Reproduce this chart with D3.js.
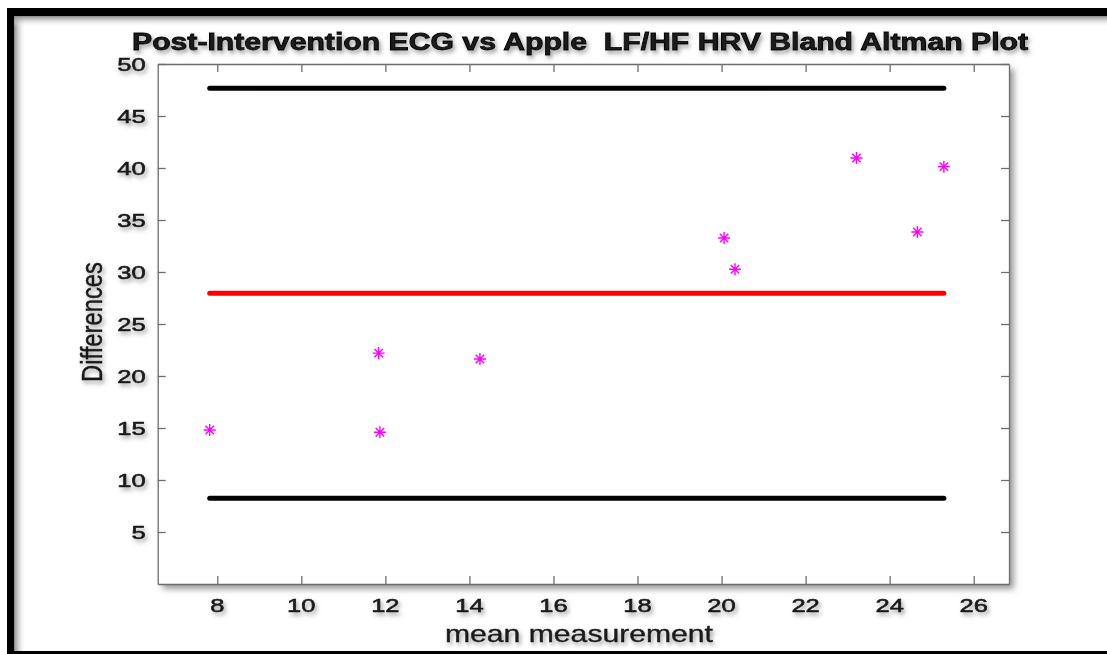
<!DOCTYPE html>
<html>
<head>
<meta charset="utf-8">
<script src="https://cdn.jsdelivr.net/npm/d3@7"></script>
<style>
  html, body { margin: 0; padding: 0; background: #fff; }
  svg { display: block; }
  text { font-family: "Liberation Sans", Arial, sans-serif; fill: #1a1a1a; }
</style>
</head>
<body>
<svg id="chart" width="1107" height="654"></svg>
<script>
// ---- data ----
const meanMeasurement = [7.82, 11.84, 11.87, 14.25, 20.06, 20.32, 23.21, 24.66, 25.29];
const differences     = [14.81, 22.2, 14.59, 21.63, 33.27, 30.26, 40.96, 33.85, 40.13];
const meanDifference = 27.95;
const upperLimit = 47.66;
const lowerLimit = 8.25;
const xTicks = [8, 10, 12, 14, 16, 18, 20, 22, 24, 26];
const yTicks = [5, 10, 15, 20, 25, 30, 35, 40, 45, 50];
const titleText = "Post-Intervention ECG vs Apple  LF/HF HRV Bland Altman Plot";
const xLabel = "mean measurement";
const yLabel = "Differences";

const svg = d3.select("#chart");
const W = 1107, H = 654;
const plot = { left: 157.7, right: 1009, top: 64, bottom: 584 };

// filters
const defs = svg.append("defs");
const ts = defs.append("filter").attr("id", "tshadow").attr("x", "-20%").attr("y", "-30%").attr("width", "150%").attr("height", "180%");
ts.append("feDropShadow").attr("dx", 2).attr("dy", 3).attr("stdDeviation", 2).attr("flood-color", "#666").attr("flood-opacity", 0.6);
const bs = defs.append("filter").attr("id", "bshadow").attr("x", "-5%").attr("y", "-5%").attr("width", "115%").attr("height", "115%");
bs.append("feDropShadow").attr("dx", 5).attr("dy", 5).attr("stdDeviation", 3).attr("flood-color", "#555").attr("flood-opacity", 0.6);
const gl = defs.append("linearGradient").attr("id", "gleft").attr("x1", 0).attr("x2", 1).attr("y1", 0).attr("y2", 0);
gl.append("stop").attr("offset", 0).attr("stop-color", "#888");
gl.append("stop").attr("offset", 1).attr("stop-color", "#fff").attr("stop-opacity", 0);
const gt = defs.append("linearGradient").attr("id", "gtop").attr("x1", 0).attr("x2", 0).attr("y1", 0).attr("y2", 1);
gt.append("stop").attr("offset", 0).attr("stop-color", "#888");
gt.append("stop").attr("offset", 1).attr("stop-color", "#fff").attr("stop-opacity", 0);

svg.append("rect").attr("width", W).attr("height", H).attr("fill", "#fff");

// frame
svg.append("rect").attr("x", 14).attr("y", 16).attr("width", 12).attr("height", H - 16).attr("fill", "url(#gleft)");
svg.append("rect").attr("x", 14).attr("y", 16).attr("width", W - 14).attr("height", 11).attr("fill", "url(#gtop)");
svg.append("rect").attr("x", 7).attr("y", 8).attr("width", 7).attr("height", H - 8).attr("fill", "#000");
svg.append("rect").attr("x", 7).attr("y", 8).attr("width", W - 7).attr("height", 8).attr("fill", "#000");
svg.append("rect").attr("x", 7).attr("y", 651).attr("width", W - 7).attr("height", 3).attr("fill", "#000");

// scales
const x = d3.scaleLinear().domain([6.582, 26.84]).range([plot.left, plot.right]);
const y = d3.scaleLinear().domain([0, 50]).range([plot.bottom, plot.top]);

// plot box with shadow
svg.append("rect")
  .attr("x", plot.left).attr("y", plot.top)
  .attr("width", plot.right - plot.left).attr("height", plot.bottom - plot.top)
  .attr("fill", "#fff").attr("filter", "url(#bshadow)");

const axisColor = "#6e6e6e";
const tickLen = 8;
// axes
const gAx = svg.append("g");
const xAxisB = d3.axisBottom(x).tickValues(xTicks).tickSizeInner(-tickLen).tickSizeOuter(0).tickFormat("");
const xAxisT = d3.axisTop(x).tickValues(xTicks).tickSizeInner(-tickLen).tickSizeOuter(0).tickFormat("");
const yAxisL = d3.axisLeft(y).tickValues(yTicks).tickSizeInner(-tickLen).tickSizeOuter(0).tickFormat("");
const yAxisR = d3.axisRight(y).tickValues(yTicks).tickSizeInner(-tickLen).tickSizeOuter(0).tickFormat("");
gAx.append("g").attr("transform", `translate(0,${plot.bottom})`).call(xAxisB);
gAx.append("g").attr("transform", `translate(0,${plot.top})`).call(xAxisT);
gAx.append("g").attr("transform", `translate(${plot.left},0)`).call(yAxisL);
gAx.append("g").attr("transform", `translate(${plot.right},0)`).call(yAxisR);
gAx.selectAll("path.domain").attr("stroke", axisColor).attr("stroke-width", 1.3);
gAx.selectAll(".tick line").attr("stroke", axisColor).attr("stroke-width", 1.3);

// tick labels
const tl = svg.append("g").attr("filter", "url(#tshadow)")
  .attr("stroke", "#1a1a1a").attr("stroke-width", 0.6);
tl.selectAll("text.yl").data(yTicks).join("text")
  .attr("class", "yl")
  .attr("x", plot.left - 12).attr("y", d => y(d) + 6.5)
  .attr("text-anchor", "end").attr("font-size", 18.5)
  .attr("textLength", d => String(d).length * 14.2).attr("lengthAdjust", "spacingAndGlyphs")
  .text(d => d);
tl.selectAll("text.xl").data(xTicks).join("text")
  .attr("class", "xl")
  .attr("x", d => x(d)).attr("y", 611.5)
  .attr("text-anchor", "middle").attr("font-size", 19)
  .attr("textLength", d => String(d).length * 14.2).attr("lengthAdjust", "spacingAndGlyphs")
  .text(d => d);

// limit and mean lines
const xExt = d3.extent(meanMeasurement);
const lines = [
  { v: upperLimit, c: "#000" },
  { v: meanDifference, c: "#ff0000" },
  { v: lowerLimit, c: "#000" }
];
svg.append("g").selectAll("line").data(lines).join("line")
  .attr("x1", x(xExt[0])).attr("x2", x(xExt[1]))
  .attr("y1", d => y(d.v)).attr("y2", d => y(d.v))
  .attr("stroke", d => d.c).attr("stroke-width", 5).attr("stroke-linecap", "round");

// markers (asterisks)
const r = 6;
const star = `M${-r},0L${r},0M0,${-r}L0,${r}M${-r*0.7},${-r*0.7}L${r*0.7},${r*0.7}M${-r*0.7},${r*0.7}L${r*0.7},${-r*0.7}`;
svg.append("g").selectAll("path").data(meanMeasurement).join("path")
  .attr("transform", (d, i) => `translate(${x(d)},${y(differences[i])})`)
  .attr("d", star).attr("stroke", "#ff00ff").attr("stroke-width", 1.4).attr("fill", "none");

// title and labels
const lab = svg.append("g").attr("filter", "url(#tshadow)");
lab.append("text")
  .attr("x", 132).attr("y", 50)
  .attr("font-size", 23).attr("font-weight", "bold").attr("fill", "#000")
  .attr("stroke", "#000").attr("stroke-width", 0.8)
  .attr("textLength", 896).attr("lengthAdjust", "spacingAndGlyphs")
  .style("white-space", "pre")
  .text(titleText);
lab.append("text")
  .attr("x", 445).attr("y", 641.5)
  .attr("font-size", 24)
  .attr("stroke", "#1a1a1a").attr("stroke-width", 0.4)
  .attr("textLength", 268).attr("lengthAdjust", "spacingAndGlyphs")
  .text(xLabel);
lab.append("text")
  .attr("transform", "translate(101.5,322) scale(1.5,1) rotate(-90)")
  .attr("text-anchor", "middle")
  .attr("font-size", 20)
  .attr("stroke", "#1a1a1a").attr("stroke-width", 0.3)
  .attr("textLength", 120).attr("lengthAdjust", "spacingAndGlyphs")
  .text(yLabel);
</script>
</body>
</html>
